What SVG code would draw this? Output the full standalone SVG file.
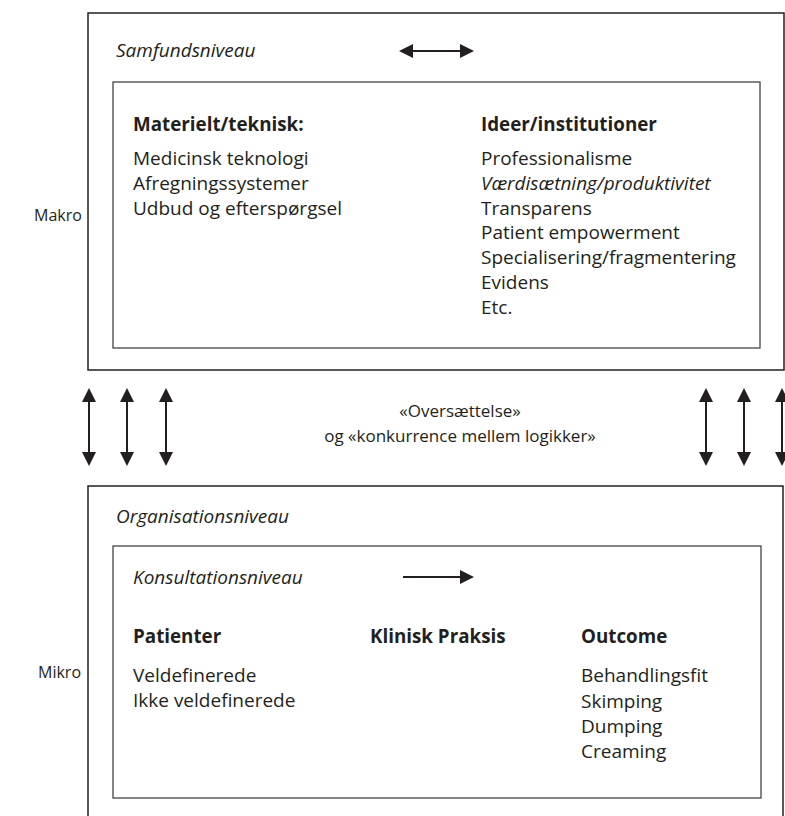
<svg xmlns="http://www.w3.org/2000/svg" width="785" height="816" viewBox="0 0 785 816">
<style>
text{font-family:"Open Sans","Noto Sans",sans-serif;font-size:19px;fill:#231f20}
.b{font-weight:bold;font-size:18.8px}
.i{font-style:italic}
.s{font-size:16px}
.m{font-size:17px}
.box{fill:none;stroke:#231f20;stroke-width:1.5}
.ibox{fill:none;stroke:#444;stroke-width:1.3}
.ar{stroke:#231f20;stroke-width:2;fill:none}
</style>
<defs>
<marker id="ah" viewBox="0 0 14 14" refX="12" refY="7" markerWidth="14" markerHeight="14" markerUnits="userSpaceOnUse" orient="auto-start-reverse">
<path d="M0,0 L14,7 L0,14 Z" fill="#231f20"/>
</marker>
</defs>
<g id="makro-label"><text class="s" x="34" y="221">Makro</text></g>
<g id="mikro-label"><text class="s" x="38" y="678">Mikro</text></g>
<g id="samfund">
<rect class="box" x="88" y="13" width="696" height="357"/>
<text class="i" x="116" y="57">Samfundsniveau</text>
</g>
<g id="samfund-inner">
<rect class="ibox" x="113" y="82" width="647" height="266"/>
<text class="b" x="133" y="131">Materielt/teknisk:</text>
<text x="133" y="165">Medicinsk teknologi</text>
<text x="133" y="189.8">Afregningssystemer</text>
<text x="133" y="214.6">Udbud og efterspørgsel</text>
<text class="b" x="481" y="131">Ideer/institutioner</text>
<text x="481" y="165">Professionalisme</text>
<text class="i" x="481" y="189.8">Værdisætning/produktivitet</text>
<text x="481" y="214.6">Transparens</text>
<text x="481" y="239.4">Patient empowerment</text>
<text x="481" y="264.2">Specialisering/fragmentering</text>
<text x="481" y="289">Evidens</text>
<text x="481" y="313.8">Etc.</text>
</g>
<g id="oversaettelse">
<text class="m" x="460" y="417" text-anchor="middle">«Oversættelse»</text>
<text class="m" x="460" y="442" text-anchor="middle">og «konkurrence mellem logikker»</text>
</g>
<g id="organisation">
<rect class="box" x="88" y="486" width="695" height="340"/>
<text class="i" x="116" y="523">Organisationsniveau</text>
</g>
<g id="konsultation">
<rect class="ibox" x="113" y="546" width="648" height="252"/>
<text class="i" x="133" y="584">Konsultationsniveau</text>
<text class="b" x="133" y="643">Patienter</text>
<text x="133" y="682">Veldefinerede</text>
<text x="133" y="707">Ikke veldefinerede</text>
<text class="b" x="370" y="643">Klinisk Praksis</text>
<text class="b" x="581" y="643">Outcome</text>
<text x="581" y="682">Behandlingsfit</text>
<text x="581" y="707.5">Skimping</text>
<text x="581" y="733">Dumping</text>
<text x="581" y="758">Creaming</text>
</g>
<g id="connectors">
<line class="ar" x1="401" y1="51" x2="472" y2="51" marker-start="url(#ah)" marker-end="url(#ah)"/>
<line class="ar" x1="89" y1="390" x2="89" y2="464" marker-start="url(#ah)" marker-end="url(#ah)"/>
<line class="ar" x1="127" y1="390" x2="127" y2="464" marker-start="url(#ah)" marker-end="url(#ah)"/>
<line class="ar" x1="166" y1="390" x2="166" y2="464" marker-start="url(#ah)" marker-end="url(#ah)"/>
<line class="ar" x1="706" y1="390" x2="706" y2="464" marker-start="url(#ah)" marker-end="url(#ah)"/>
<line class="ar" x1="744" y1="390" x2="744" y2="464" marker-start="url(#ah)" marker-end="url(#ah)"/>
<line class="ar" x1="782" y1="390" x2="782" y2="464" marker-start="url(#ah)" marker-end="url(#ah)"/>
<line class="ar" x1="403" y1="577" x2="472" y2="577" marker-end="url(#ah)"/>
</g>
</svg>
